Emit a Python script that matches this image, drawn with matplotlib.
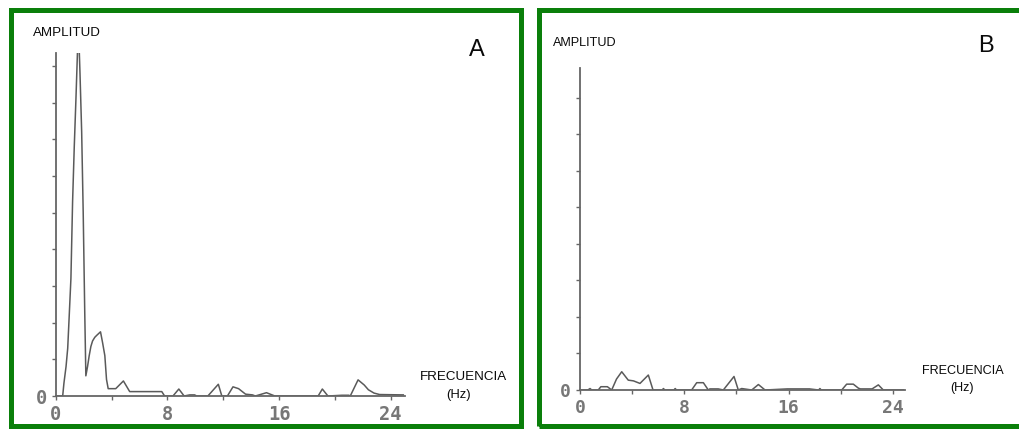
import matplotlib.pyplot as plt
from matplotlib.patches import Rectangle
from matplotlib.ticker import MultipleLocator

# Panel A: frequency (Hz) and amplitude (y tick units)
freq_a = [0.0, 0.5, 0.59, 0.74, 0.86, 0.97, 1.09, 1.21, 1.33, 1.45, 1.57, 1.68,
          1.74, 1.86, 1.97, 2.08, 2.16, 2.28, 2.4, 2.52, 2.64, 2.8, 2.93, 3.07,
          3.21, 3.36, 3.52, 3.64, 3.76, 4.3, 4.85, 5.3, 7.6, 7.8, 8.4, 8.82,
          9.2, 9.6, 9.95, 10.1, 10.9, 11.65, 11.9, 12.3, 12.7, 13.1, 13.6,
          14.1, 14.3, 15.1, 15.7, 18.8, 19.1, 19.5, 20.5, 21.0, 21.1, 21.66,
          22.1, 22.4, 22.8, 23.2, 24.9]
amp_a = [0.0, 0.0, 0.35, 0.8, 1.3, 2.2, 3.2, 5.3, 6.8, 8.1, 9.5, 9.5,
         8.8, 7.2, 5.0, 2.3, 0.55, 0.8, 1.1, 1.35, 1.5, 1.6, 1.65, 1.7,
         1.75, 1.45, 1.1, 0.45, 0.2, 0.2, 0.41, 0.12, 0.12, 0.0, 0.0, 0.19,
         0.0, 0.03, 0.03, 0.0, 0.0, 0.32, 0.0, 0.0, 0.25, 0.2, 0.05,
         0.03, 0.0, 0.09, 0.0, 0.0, 0.19, 0.0, 0.02, 0.02, 0.0, 0.44,
         0.3, 0.17, 0.08, 0.04, 0.03]

# Panel B
freq_b = [0.0, 0.6, 0.77, 0.9, 1.4, 1.6, 2.1, 2.43, 2.8, 3.2, 3.7, 4.1, 4.6,
          5.24, 5.6, 6.3, 6.4, 6.5, 7.2, 7.3, 7.4, 8.56, 8.95, 9.46, 9.84,
          9.96, 10.6, 10.99, 11.81, 12.14, 12.4, 13.17, 13.68, 14.19, 15.9,
          17.6, 18.3, 18.4, 18.5, 20.07, 20.45, 20.96, 21.35, 21.5, 22.4,
          22.88, 23.26, 24.8]
amp_b = [0.0, 0.0, 0.04, 0.0, 0.0, 0.09, 0.09, 0.0, 0.3, 0.5, 0.27, 0.25, 0.18,
         0.41, 0.0, 0.0, 0.04, 0.0, 0.0, 0.04, 0.0, 0.0, 0.2, 0.2, 0.0,
         0.03, 0.03, 0.0, 0.37, 0.0, 0.04, 0.0, 0.15, 0.0, 0.03,
         0.03, 0.0, 0.04, 0.0, 0.0, 0.16, 0.16, 0.05, 0.03, 0.03,
         0.14, 0.0, 0.0]

x_labels = ["0", "8", "16", "24"]

W, H = 1019, 429
GREEN = "#0a7f0a"
GRAY = "#5a5a5a"


def fx(px):
    return px / W


def fy(py):
    return 1 - py / H


fig = plt.figure(figsize=(W / 100, H / 100), dpi=100)
fig.patch.set_facecolor("white")

# green frames round each panel
fig.add_artist(Rectangle((fx(10.8), fy(425.8)), fx(520.8) - fx(10.8), fy(9.8) - fy(425.8),
                         transform=fig.transFigure, fill=False, edgecolor=GREEN, lw=3.6))
fig.add_artist(Rectangle((fx(538.9), fy(425.8)), fx(1030) - fx(538.9), fy(9.6) - fy(425.8),
                         transform=fig.transFigure, fill=False, edgecolor=GREEN, lw=3.6,
                         clip_on=False))


def spectrum(rect, freq, amp, xmax, ymax, tick_size):
    ax = fig.add_axes(rect)
    ax.plot(freq, amp, color=GRAY, lw=1.1)
    ax.set_xlim(0, xmax)
    ax.set_ylim(0, ymax)
    for side in ["top", "right"]:
        ax.spines[side].set_visible(False)
    for side in ["left", "bottom"]:
        ax.spines[side].set_color("#666666")
        ax.spines[side].set_linewidth(1.3)
    ax.set_facecolor("none")
    ax.set_xticks([0, 8, 16, 24])
    ax.set_xticklabels(x_labels)
    ax.xaxis.set_minor_locator(MultipleLocator(4))
    ax.set_yticks(range(0, int(ymax) + 1))
    ax.set_yticklabels(["0"] + [""] * int(ymax))
    ax.tick_params(which="both", length=3, width=1, color="#666666", pad=3.5,
                   labelsize=tick_size, labelcolor="#777777")
    for lab in ax.get_xticklabels() + ax.get_yticklabels():
        lab.set_fontfamily("DejaVu Sans Mono")
        lab.set_fontweight("bold")
    return ax


ax_a = spectrum([fx(55.7), fy(396), fx(404.7) - fx(55.7), fy(53) - fy(396)],
                freq_a, amp_a, 25, 9.35, 13.5)
ax_b = spectrum([fx(580), fy(390), fx(904.7) - fx(580), fy(68.3) - fy(390)],
                freq_b, amp_b, 24.9, 8.81, 13)

txt = dict(family="Liberation Sans", color="#0a0a0a", ha="center", va="center")
fig.text(fx(66.5), fy(33), "AMPLITUD", fontsize=9.6, **txt)
fig.text(fx(463), fy(377), "FRECUENCIA", fontsize=9.6, **txt)
fig.text(fx(459), fy(395), "(Hz)", fontsize=9.4, **txt)
fig.text(fx(477), fy(50.5), "A", fontsize=17, **txt)

fig.text(fx(585), fy(43.3), "AMPLITUD", fontsize=9.1, **txt)
fig.text(fx(962.5), fy(371), "FRECUENCIA", fontsize=9.1, **txt)
fig.text(fx(961.7), fy(388.3), "(Hz)", fontsize=9.0, **txt)
fig.text(fx(986), fy(46.5), "B", fontsize=17, **txt)

fig.savefig("out.png", dpi=100, facecolor="white")
